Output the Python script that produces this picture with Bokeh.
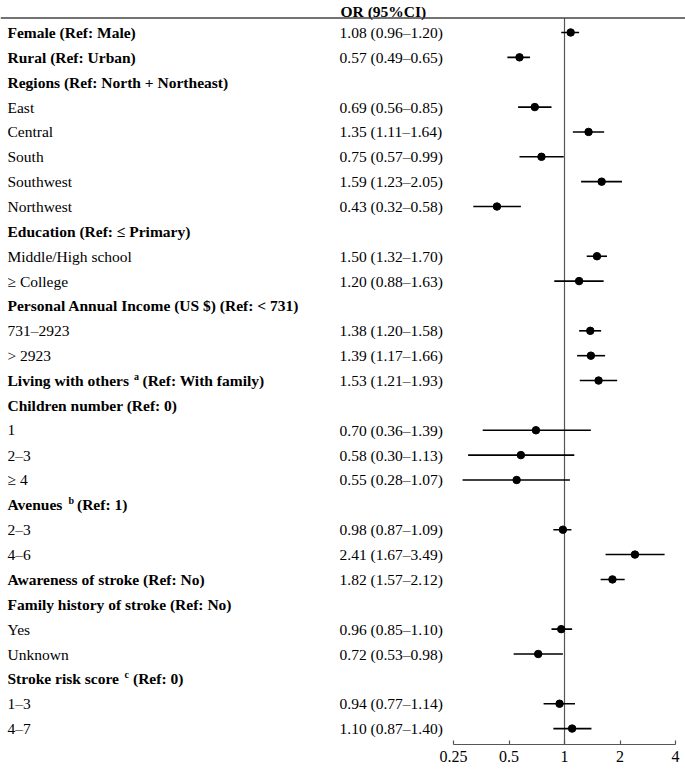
from bokeh.plotting import figure
from bokeh.models import Range1d, FixedTicker, Span, CustomJSTickFormatter
from bokeh.core.properties import value
from bokeh.embed import file_html
from bokeh.resources import INLINE

labels = ["Female (Ref: Male)", "Rural (Ref: Urban)", "Regions (Ref: North + Northeast)",
          "East", "Central", "South", "Southwest", "Northwest",
          "Education (Ref: \u2264 Primary)", "Middle/High school", "\u2265 College",
          "Personal Annual Income (US $) (Ref: < 731)", "731\u20132923", "> 2923",
          "Living with others", "Children number (Ref: 0)", "1", "2\u20133", "\u2265 4",
          "Avenues", "2\u20133", "4\u20136", "Awareness of stroke (Ref: No)",
          "Family history of stroke (Ref: No)", "Yes", "Unknown",
          "Stroke risk score", "1\u20133", "4\u20137"]
bold = [1, 1, 1, 0, 0, 0, 0, 0, 1, 0, 0, 1, 0, 0, 1, 1, 0, 0, 0, 1, 0, 0, 1, 1, 0, 0, 1, 0, 0]
or_val = [1.08, 0.57, None, 0.69, 1.35, 0.75, 1.59, 0.43, None, 1.50, 1.20, None, 1.38, 1.39, 1.53,
          None, 0.70, 0.58, 0.55, None, 0.98, 2.41, 1.82, None, 0.96, 0.72, None, 0.94, 1.10]
ci_lo = [0.96, 0.49, None, 0.56, 1.11, 0.57, 1.23, 0.32, None, 1.32, 0.88, None, 1.20, 1.17, 1.21,
         None, 0.36, 0.30, 0.28, None, 0.87, 1.67, 1.57, None, 0.85, 0.53, None, 0.77, 0.87]
ci_hi = [1.20, 0.65, None, 0.85, 1.64, 0.99, 2.05, 0.58, None, 1.70, 1.63, None, 1.58, 1.66, 1.93,
         None, 1.39, 1.13, 1.07, None, 1.09, 3.49, 2.12, None, 1.10, 0.98, None, 1.14, 1.40]
# superscript notes: row -> (letter, rest of label, pixel offset of letter, pixel offset of rest)
sup_notes = {14: ("a", "(Ref: With family)", 133.5, 142),
             19: ("b", "(Ref: 1)", 68, 76.5),
             26: ("c", "(Ref: 0)", 124, 132.5)}
ticks = [0.25, 0.5, 1, 2, 4]
header = "OR (95%CI)"

FONT = value("Liberation Serif")
FS = "15.5px"
LAB_OFF = 7
OR_OFF = 339

x0 = 2 ** -10.162
x1 = 2 ** 2.18
y_top = -1.287
y_bot = 28.64
hline = -0.583
p = figure(frame_width=685, frame_height=744, x_axis_type="log",
           x_range=Range1d(x0, x1), y_range=Range1d(y_bot, y_top),
           output_backend="svg", toolbar_location=None, y_axis_location=None,
           min_border=0, outline_line_color=None)
p.grid.visible = False
p.background_fill_color = "white"
p.border_fill_color = "white"

# header
p.text(x=[x0], y=[-0.85], text=[header], x_offset=OR_OFF + 1, text_font=FONT, text_font_size=FS,
       text_font_style="bold", text_baseline="middle", text_align="left", text_color="black")
p.add_layout(Span(location=hline, dimension="width", line_color="#444444", line_width=1.3))

# vertical reference line at OR = 1
p.segment(x0=[1], x1=[1], y0=[hline], y1=[y_bot], line_color="#555555", line_width=1.2)

rows = list(range(len(labels)))
bx = [x0 for r in rows if bold[r]]
by = [r for r in rows if bold[r]]
bt = [labels[r] for r in rows if bold[r]]
nx = [x0 for r in rows if not bold[r]]
ny = [r for r in rows if not bold[r]]
nt = [labels[r] for r in rows if not bold[r]]
p.text(x=bx, y=by, text=bt, x_offset=LAB_OFF, text_font=FONT, text_font_size=FS,
       text_font_style="bold", text_baseline="middle", text_align="left", text_color="black")
p.text(x=nx, y=ny, text=nt, x_offset=LAB_OFF, text_font=FONT, text_font_size=FS,
       text_baseline="middle", text_align="left", text_color="black")
for r, (letter, rest, off_l, off_r) in sup_notes.items():
    p.text(x=[x0], y=[r], text=[letter], x_offset=off_l, y_offset=-4, text_font=FONT,
           text_font_size="10px", text_font_style="bold", text_baseline="middle", text_align="left")
    p.text(x=[x0], y=[r], text=[rest], x_offset=off_r, text_font=FONT, text_font_size=FS,
           text_font_style="bold", text_baseline="middle", text_align="left")

# OR text column and forest marks
er = [r for r in rows if or_val[r] is not None]
ot = ["%.2f (%.2f\u2013%.2f)" % (or_val[r], ci_lo[r], ci_hi[r]) for r in er]
p.text(x=[x0] * len(er), y=er, text=ot, x_offset=OR_OFF, text_font=FONT, text_font_size=FS,
       text_baseline="middle", text_align="left", text_color="black")
p.segment(x0=[ci_lo[r] for r in er], x1=[ci_hi[r] for r in er], y0=er, y1=er,
          line_color="black", line_width=1.6)
p.scatter(x=[or_val[r] for r in er], y=er, size=7.5, marker="circle",
          fill_color="black", line_color="black")

ax = p.xaxis[0]
ax.ticker = FixedTicker(ticks=ticks)
ax.formatter = CustomJSTickFormatter(code="return String(tick);")
ax.bounds = (ticks[0], ticks[-1])
ax.minor_tick_line_color = None
ax.major_tick_in = 4
ax.major_tick_out = 0
ax.axis_line_color = "#555555"
ax.axis_line_width = 1.2
ax.major_tick_line_color = "#555555"
ax.major_tick_line_width = 1.2
ax.major_label_text_font = "Liberation Serif"
ax.major_label_text_font_size = "16px"
ax.major_label_text_color = "black"
ax.major_label_standoff = 6

open("out.html", "w").write(file_html(p, INLINE))
